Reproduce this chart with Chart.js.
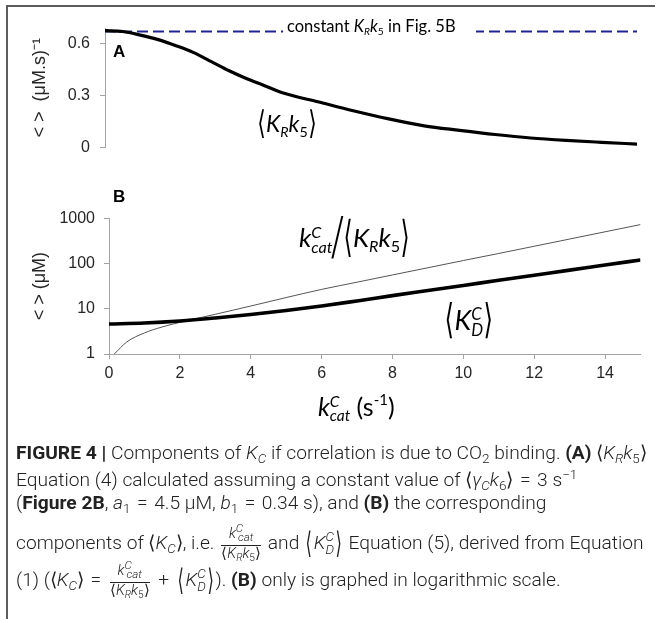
<!DOCTYPE html>
<html>
<head>
<meta charset="utf-8">
<script src="https://cdn.jsdelivr.net/npm/chart.js@4.4.1/dist/chart.umd.min.js"></script>
<style>
  html, body { margin: 0; padding: 0; background: #fff; }
  #fig { position: relative; width: 655px; height: 619px; overflow: hidden; background: #fff; }
  .rule-top { position: absolute; left: 6px; top: 5px; width: 649px; height: 2px; background: #5c5c5c; }
  .rule-left { position: absolute; left: 6px; top: 5px; width: 2px; height: 614px; background: #5c5c5c; }
  .wrap { position: absolute; left: 0; width: 655px; }
  .wrap canvas { display: block; }
  .panel { position: absolute; font: bold 17px "Liberation Sans", Arial, sans-serif; line-height: 1; color: #000; }
  .m { position: absolute; font-family: Lato, "Open Sans", sans-serif; white-space: nowrap; line-height: 1; color: #000; }
  .m i { font-style: italic; }
  .sb { font-size: 0.62em; vertical-align: -0.32em; line-height: 1; }
  .ss { display: inline-block; font-size: 0.62em; line-height: 0.95; vertical-align: -0.38em; text-align: left; }
  .ss > span { display: block; }
  .br { display: inline-block; font-family: "DejaVu Sans", sans-serif; font-style: normal; font-weight: normal;
        transform: scale(0.95, 1.3); transform-origin: 50% 60%; }
  .const { background: #fff; padding: 0 20px 2px 4px; font-size: 16.5px; }
  .cap { position: absolute; left: 16px; white-space: nowrap; font-family: Roboto, "Liberation Sans", sans-serif;
         font-weight: 300; font-size: 19.2px; line-height: 1; color: #222; }
  .cap b { font-weight: 700; }
  .cap sub { font-size: 0.7em; vertical-align: -0.3em; line-height: 1; }
  .cap sup { font-size: 0.7em; vertical-align: 0.5em; line-height: 1; }
  .eq { margin: 0 0.34em; }
  .fr { display: inline-block; vertical-align: -0.62em; text-align: center; font-size: 14.5px; line-height: 1.05; margin: 0 0.15em; }
  .fr > span { display: block; }
  .fr .num { border-bottom: 1px solid #222; padding: 0 2px 1px; }
  .cbr { display: inline-block; font-family: "DejaVu Sans", sans-serif; font-weight: normal; transform: scale(0.85, 1.55); margin: 0 0.06em; }
  .kd { display: inline-block; }
</style>
</head>
<body>
<div id="fig">
  <div class="wrap" style="top:0;height:170px"><canvas id="chartA" width="655" height="170"></canvas></div>
  <div class="wrap" style="top:160px;height:270px"><canvas id="chartB" width="655" height="270"></canvas></div>

  <div class="rule-top"></div>
  <div class="rule-left"></div>

  <div class="panel" style="left:113px;top:43px">A</div>
  <div class="panel" style="left:113px;top:188px">B</div>

  <div class="m const" style="left:283px;top:18px">constant <i>K</i><span class="sb"><i>R</i></span><i>k</i><span class="sb">5</span> in Fig. 5B</div>

  <div class="m" style="left:257px;top:112px;font-size:23px">
    <span class="br" style="transform:scale(0.95,1.4)">⟨</span><i>K</i><span class="sb"><i>R</i></span><i>k</i><span class="sb">5</span><span class="br" style="transform:scale(0.95,1.4)">⟩</span>
  </div>

  <div class="m" style="left:299px;top:224px;font-size:26px">
    <i>k</i><span class="ss"><span><i>C</i></span><span><i>cat</i></span></span><span class="br" style="transform:scale(1.5,1.95);transform-origin:50% 55%;font-weight:200;margin:0 0.03em">/</span><span class="br" style="transform:scale(0.9,1.65)">⟨</span><i>K</i><span class="sb"><i>R</i></span><i>k</i><span class="sb">5</span><span class="br" style="transform:scale(0.9,1.65)">⟩</span>
  </div>

  <div class="m" style="left:444px;top:306px;font-size:27px">
    <span class="br" style="transform:scale(0.9,1.5)">⟨</span><i>K</i><span class="ss"><span><i>C</i></span><span><i>D</i></span></span><span class="br" style="transform:scale(0.9,1.5)">⟩</span>
  </div>

  <div class="m" style="left:318px;top:392px;font-size:25px">
    <i>k</i><span class="ss"><span><i>C</i></span><span><i>cat</i></span></span> (s<span style="font-size:0.6em;vertical-align:0.7em">-1</span>)
  </div>

  <div class="cap" style="top:443px"><b>FIGURE 4 |</b> Components of <i>K</i><sub><i>C</i></sub> if correlation is due to CO<sub>2</sub> binding. <b>(A)</b> ⟨<i>K</i><sub><i>R</i></sub><i>k</i><sub>5</sub>⟩</div>
  <div class="cap" style="top:468px">Equation (4) calculated assuming a constant value of ⟨<i>γ</i><sub><i>C</i></sub><i>k</i><sub>6</sub>⟩<span class="eq">=</span>3 s<sup>−1</sup></div>
  <div class="cap" style="top:493px">(<b>Figure 2B</b>, <i>a</i><sub>1</sub><span class="eq">=</span>4.5 μM, <i>b</i><sub>1</sub><span class="eq">=</span>0.34 s), and <b>(B)</b> the corresponding</div>
  <div class="cap" style="top:523px">components of ⟨<i>K</i><sub><i>C</i></sub>⟩, i.e. <span class="fr"><span class="num"><i>k</i><sup style="font-size:0.8em"><i>C</i></sup><sub style="font-size:0.8em;margin-left:-0.45em"><i>cat</i></sub></span><span>⟨<i>K</i><sub><i>R</i></sub><i>k</i><sub>5</sub>⟩</span></span> and <span class="kd"><span class="cbr">⟨</span><i>K</i><span class="ss" style="font-size:0.7em"><span><i>C</i></span><span><i>D</i></span></span><span class="cbr">⟩</span></span> Equation (5), derived from Equation</div>
  <div class="cap" style="top:560px">(1) (⟨<i>K</i><sub><i>C</i></sub>⟩<span class="eq">=</span><span class="fr"><span class="num"><i>k</i><sup style="font-size:0.8em"><i>C</i></sup><sub style="font-size:0.8em;margin-left:-0.45em"><i>cat</i></sub></span><span>⟨<i>K</i><sub><i>R</i></sub><i>k</i><sub>5</sub>⟩</span></span><span class="eq">+</span><span class="kd"><span class="cbr">⟨</span><i>K</i><span class="ss" style="font-size:0.7em"><span><i>C</i></span><span><i>D</i></span></span><span class="cbr">⟩</span></span>). <b>(B)</b> only is graphed in logarithmic scale.</div>
</div>

<script>
// Catalytic rate constant k_cat^C (s^-1) sampled along the curves
const kcatA = [0, 0.5, 1, 1.5, 2, 2.5, 3, 3.5, 4, 4.5, 5, 6, 7, 8, 9, 10, 11, 12, 13, 14, 15];
// Panel A: <K_R k_5> in (uM.s)^-1
const krk5 = [0.675, 0.670, 0.649, 0.623, 0.588, 0.548, 0.496, 0.443, 0.397, 0.357, 0.316, 0.264, 0.212, 0.165, 0.125, 0.099, 0.075, 0.055, 0.041, 0.030, 0.020];
// Constant K_R k_5 used in Fig. 5B
const constKRk5 = 0.67;

// Panel B: k_cat^C / <K_R k_5> (uM)
const kcatRatio = [0.15, 0.5, 1, 1.5, 2, 3, 4, 5, 6, 7, 8, 9, 10, 11, 12, 13, 14, 15];
const ratio = [1.0, 1.84, 2.92, 3.96, 5.0, 7.55, 11.5, 17.7, 26.8, 38.7, 55.9, 80.7, 116.5, 167, 241, 348, 503, 726];
// Panel B: <K_D^C> (uM)
const kcatKD = [0, 1, 2, 3, 4, 5, 6, 7, 8, 9, 10, 11, 12, 13, 14, 15];
const kdC = [4.61, 4.85, 5.37, 6.26, 7.48, 9.17, 11.5, 14.9, 19.5, 25.3, 32.8, 42.5, 55.1, 71.4, 92.7, 120];

// Axis ticks
const xRange = [0, 15];
const xTicksB = [0, 2, 4, 6, 8, 10, 12, 14];
const yTicksA = [0, 0.3, 0.6];
const yRangeA = [0, 0.69];
const yTicksB = [1, 10, 100, 1000];
const yRangeB = [1, 1000];

const pts = (xs, ys) => xs.map((x, i) => ({ x, y: ys[i] }));

const axisGrey = '#a3a3a3';
const tickFont = { family: '"Liberation Sans", Arial, sans-serif', size: 16 };
const titleFont = { family: '"Liberation Sans", Arial, sans-serif', size: 18 };
const tickColor = '#262626';

const common = {
  responsive: false,
  animation: false,
  devicePixelRatio: 1,
  events: [],
  plugins: { legend: { display: false }, tooltip: { enabled: false } },
  elements: { point: { radius: 0 }, line: { fill: false } }
};

new Chart(document.getElementById('chartA'), {
  type: 'line',
  data: {
    datasets: [
      { data: pts(kcatA, krk5), borderColor: '#000', borderWidth: 3.2, cubicInterpolationMode: 'monotone' },
      { data: pts(xRange, [constKRk5, constKRk5]), borderColor: '#1f2390', borderWidth: 2, borderDash: [11, 5] }
    ]
  },
  options: {
    ...common,
    layout: { autoPadding: false, padding: { left: 0, right: 18, top: 28, bottom: 22.5 } },
    scales: {
      x: { type: 'linear', min: xRange[0], max: xRange[1], display: false },
      y: {
        type: 'linear', min: yRangeA[0], max: yRangeA[1],
        afterFit: s => { s.width = 105; },
        afterBuildTicks: s => { s.ticks = yTicksA.map(v => ({ value: v })); },
        grid: { drawOnChartArea: false, drawTicks: true, tickLength: 5, color: axisGrey },
        border: { display: true, color: axisGrey, width: 1 },
        ticks: { font: tickFont, color: tickColor, padding: 10, callback: v => String(v) },
        title: { display: true, text: '< >  (μM.s)⁻¹', font: titleFont, color: tickColor, padding: { top: 29, bottom: 0 } }
      }
    }
  }
});

new Chart(document.getElementById('chartB'), {
  type: 'line',
  data: {
    datasets: [
      { data: pts(kcatKD, kdC), borderColor: '#000', borderWidth: 3.6, cubicInterpolationMode: 'monotone' },
      { data: pts(kcatRatio, ratio), borderColor: '#555', borderWidth: 1, cubicInterpolationMode: 'monotone' }
    ]
  },
  options: {
    ...common,
    layout: { autoPadding: false, padding: { left: 0, right: 14.5, top: 58.3, bottom: 0 } },
    scales: {
      x: {
        type: 'linear', min: xRange[0], max: xRange[1],
        afterFit: s => { s.height = 76; },
        afterBuildTicks: s => { s.ticks = xTicksB.map(v => ({ value: v })); },
        grid: { drawOnChartArea: false, drawTicks: true, tickLength: 5, color: axisGrey },
        border: { display: true, color: axisGrey, width: 1 },
        ticks: { font: tickFont, color: tickColor, padding: 5, maxRotation: 0, callback: v => String(v) }
      },
      y: {
        type: 'logarithmic', min: yRangeB[0], max: yRangeB[1],
        afterFit: s => { s.width = 109; },
        afterBuildTicks: s => { s.ticks = yTicksB.map(v => ({ value: v })); },
        grid: { drawOnChartArea: false, drawTicks: true, tickLength: 5, color: axisGrey },
        border: { display: true, color: axisGrey, width: 1 },
        ticks: { font: tickFont, color: tickColor, padding: 9, callback: v => String(v) },
        title: { display: true, text: '< > (μM)', font: titleFont, color: tickColor, padding: { top: 29, bottom: 0 } }
      }
    }
  }
});
</script>
</body>
</html>
